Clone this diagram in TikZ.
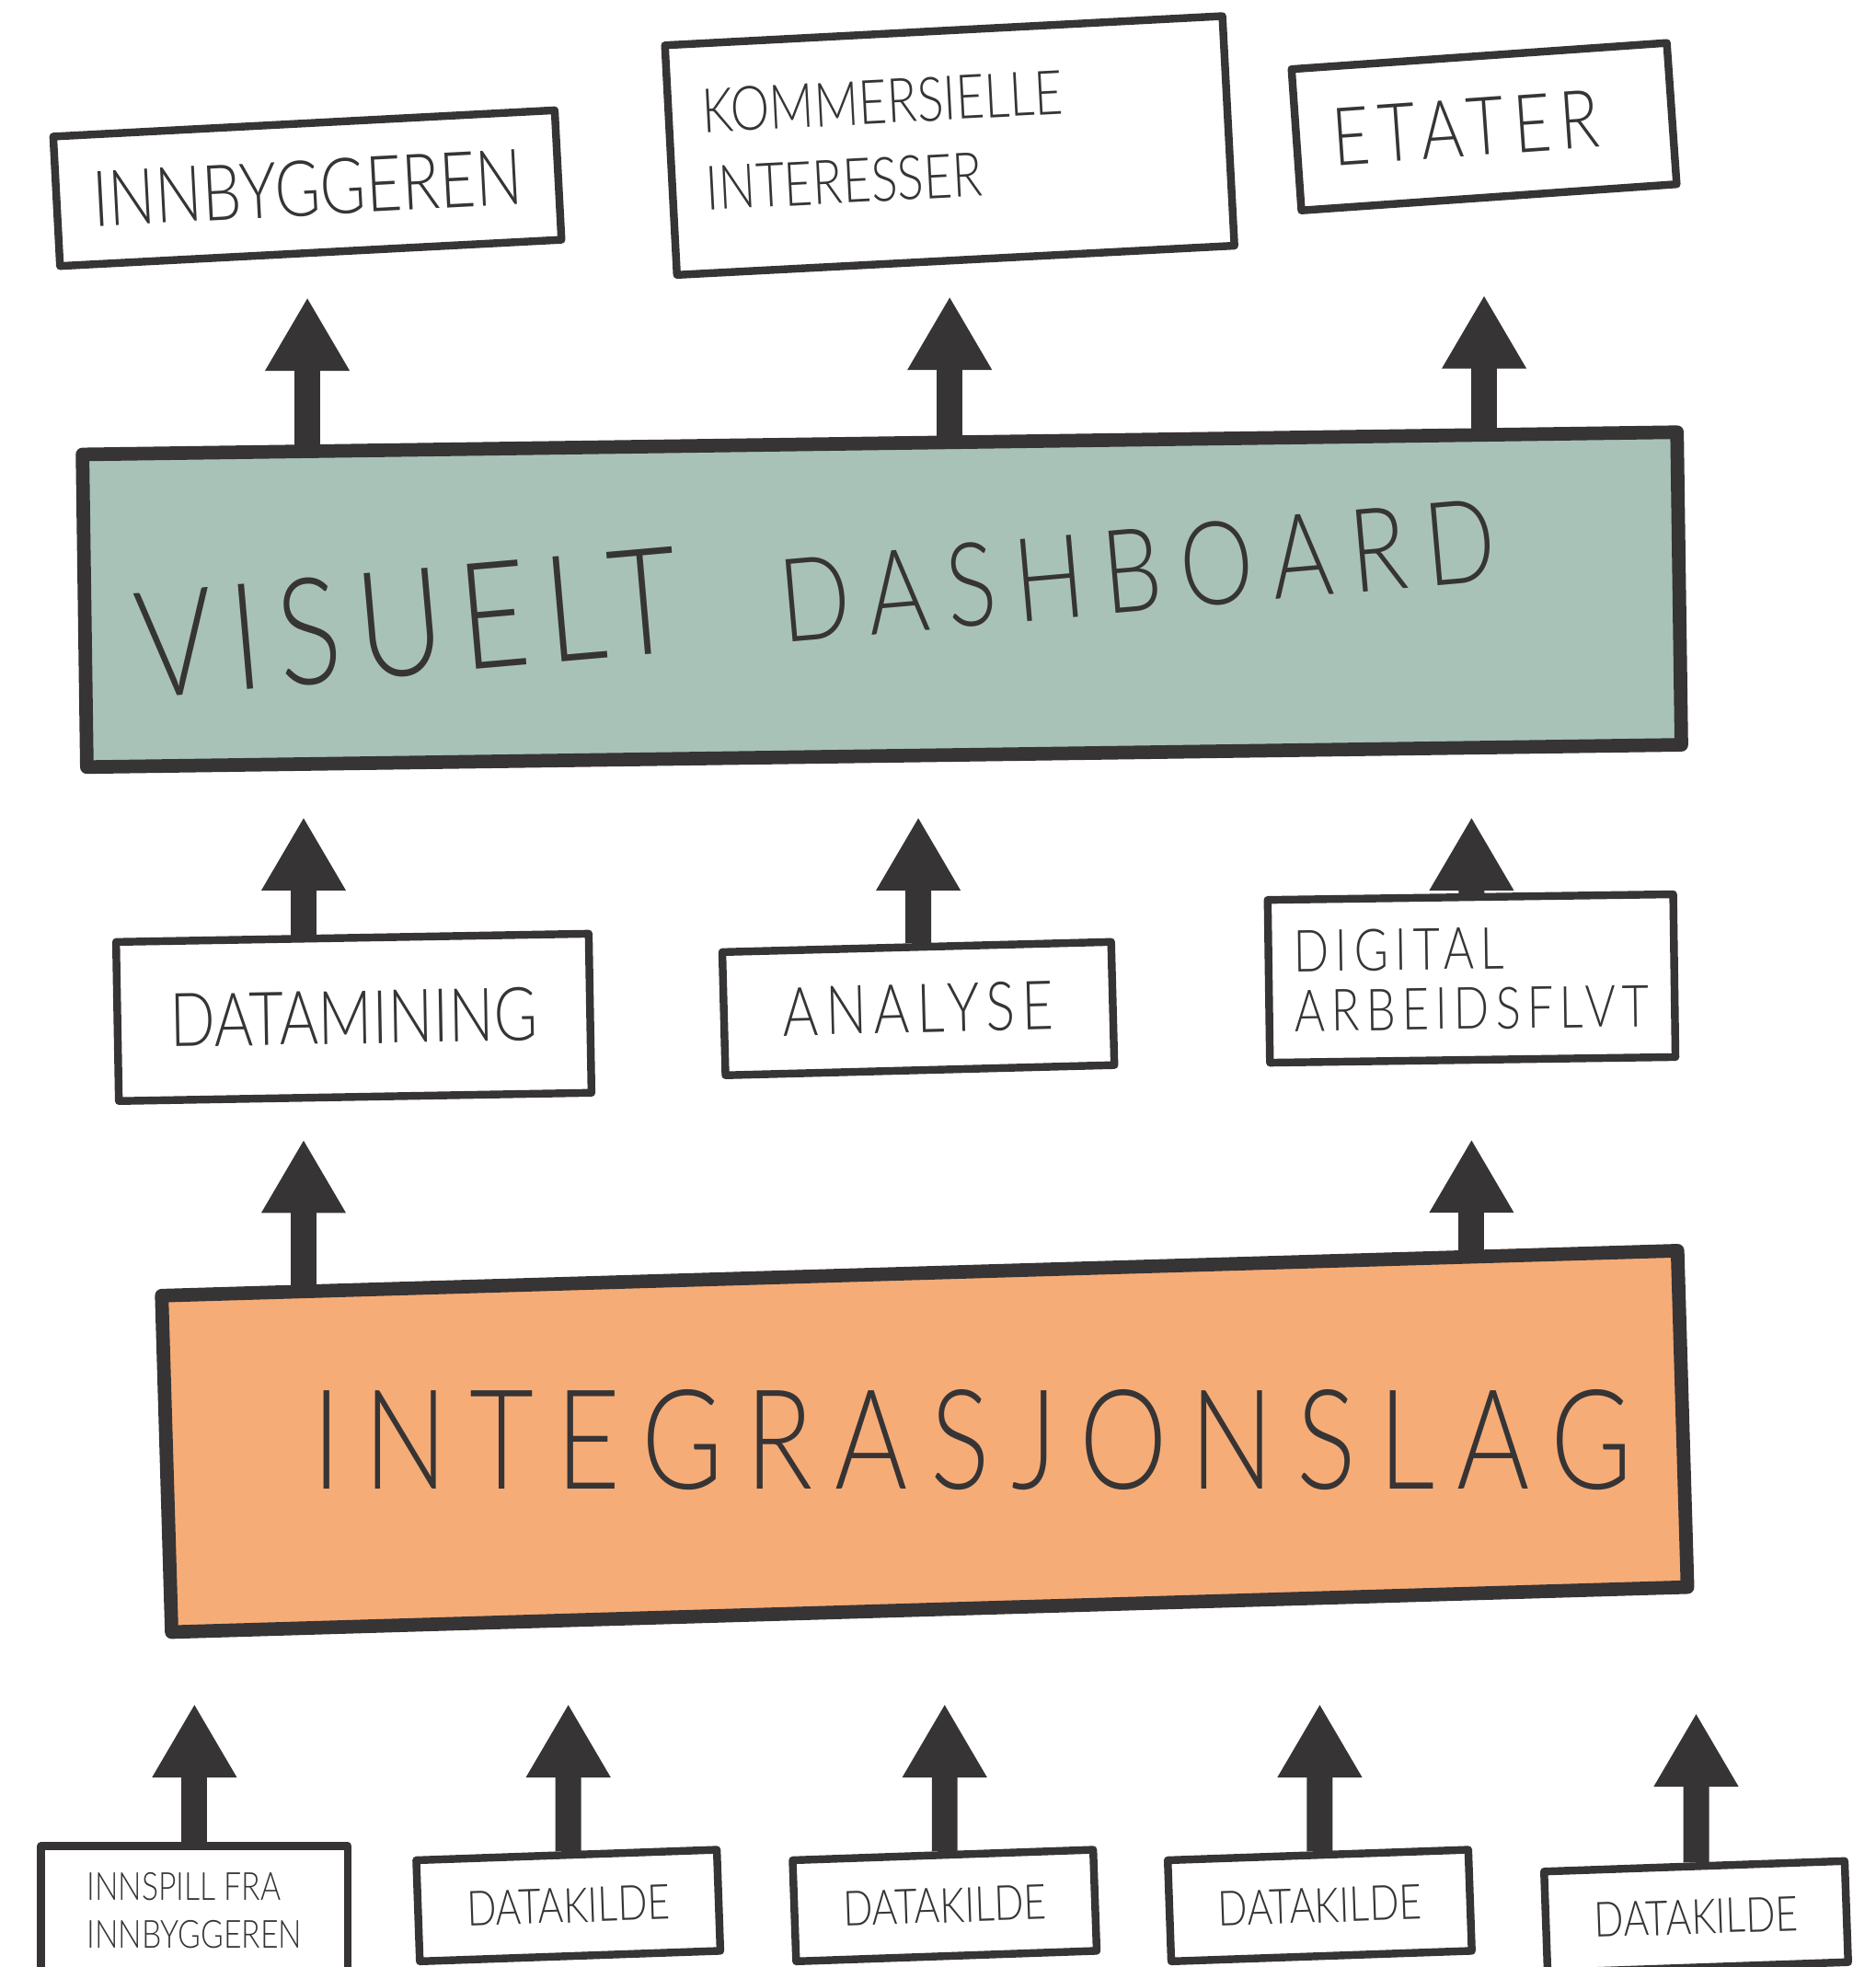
\documentclass[tikz,border=0pt]{standalone}
\usepackage{fontspec}
\usetikzlibrary{arrows.meta,backgrounds}
\newfontfamily\hand[FakeStretch=0.8]{Lato Light}
\newfontfamily\handwide[FakeStretch=0.8,LetterSpace=11]{Lato Light}
\newfontfamily\handwider[FakeStretch=0.8,LetterSpace=16]{Lato Light}
\definecolor{ink}{HTML}{363435}
\definecolor{sage}{HTML}{A9C2B7}
\definecolor{peach}{HTML}{F6AC77}
\begin{document}
\begin{tikzpicture}[x=0.01364cm,y=-0.01364cm]
  \tikzset{box/.style={draw=ink, line width=2.4pt, fill=white, line join=round, inner sep=0pt, text=ink, align=left},
    layer/.style={box, line width=4.2pt},
    hand/.style={text=ink, align=left, inner sep=0pt},
    up arrow/.style={draw=ink, line width=0.28cm, -{Triangle[width=0.86cm,length=0.8cm]}}}
  \useasboundingbox (0,0) rectangle (1495,1568);
  \coordinate (left) at (242,0);
  \node[box, minimum width=5.46cm, minimum height=1.41cm, rotate=3, font={\hand\fontsize{24}{26}\selectfont}] (innb) at (245,150) {INNBYGGEREN};
  \node[box, minimum width=6.07cm, minimum height=2.5cm, rotate=3] (komm) at (757,116) {};
  \node[hand, rotate=3, font={\hand\fontsize{19}{24}\selectfont}] (kommlbl) at (705,112) {KOMMERSIELLE\\INTERESSER};
  \node[box, minimum width=4.09cm, minimum height=1.54cm, rotate=4, font={\handwide\fontsize{25}{27}\selectfont}] (etat) at (1183,101) {\hspace{-0.4cm}ETATER};
  \node[layer, fill=sage, minimum width=17.34cm, minimum height=3.4cm, rotate=0.8] (dash) at (703,478) {};
  \node[hand, rotate=5] (dashlbl) at (650,468) {{\handwide\fontsize{46}{48}\selectfont VISUELT}\hspace{1.1cm}{\handwider\fontsize{36}{40}\selectfont DASHBOARD}};
  \node[box, minimum width=5.14cm, minimum height=1.73cm, rotate=1, font={\hand\fontsize{23}{25}\selectfont}] (datam) at (282,811) {DATAMINING};
  \node[box, minimum width=4.23cm, minimum height=1.34cm, rotate=1.5, font={\handwide\fontsize{21}{23}\selectfont}] (anal) at (732,804) {ANALYSE};
  \node[box, minimum width=4.41cm, minimum height=1.77cm, rotate=0.8, font={\handwide\fontsize{18}{18.5}\selectfont}] (digi) at (1173,780) {DIGITAL\\ARBEIDSFLVT};
  \node[layer, fill=peach, minimum width=16.49cm, minimum height=3.66cm, rotate=1.7] (integ) at (737,1149) {};
  \node[hand, font={\handwider\fontsize{43}{45}\selectfont}] (integlbl) at (775,1148) {INTEGRASJONSLAG};
  \node[box, minimum width=3.34cm, minimum height=1.4cm, font={\hand\fontsize{12}{14.7}\selectfont}] (innsp) at (155,1523) {INNSPILL FRA\\INNBYGGEREN};
  \node[box, minimum width=3.27cm, minimum height=1.1cm, rotate=2, font={\hand\fontsize{15}{17}\selectfont}] (dk1) at (453,1519) {DATAKILDE};
  \node[box, minimum width=3.27cm, minimum height=1.1cm, rotate=2, font={\hand\fontsize{15}{17}\selectfont}] (dk2) at (753,1519) {DATAKILDE};
  \node[box, minimum width=3.27cm, minimum height=1.1cm, rotate=2, font={\hand\fontsize{15}{17}\selectfont}] (dk3) at (1052,1519) {DATAKILDE};
  \node[box, minimum width=3.27cm, minimum height=1.1cm, rotate=2, font={\hand\fontsize{15}{17}\selectfont}] (dk4) at (1352,1528) {DATAKILDE};
  \begin{scope}[on background layer]
    \foreach \n/\g in {innb/0.44, komm/0.35, etat/1.02}
      \draw[up arrow, shorten >=\g cm] (\n |- dash) -- (\n |- \n.south);
    \draw[up arrow, shorten >=0.59cm] (left |- datam) -- (left |- dash.south);
    \draw[up arrow, shorten >=0.59cm] (anal) -- (anal |- dash.south);
    \draw[up arrow, shorten >=0.59cm] (digi) -- (digi |- dash.south);
    \draw[up arrow, shorten >=0.42cm] (left |- integ) -- (left |- datam.south);
    \draw[up arrow, shorten >=0.82cm] (digi |- integ) -- (digi |- digi.south);
    \foreach \n/\g in {innsp/0.95, dk1/0.95, dk2/0.95, dk3/0.95, dk4/1.05}
      \draw[up arrow, shorten >=\g cm] (\n) -- (\n |- integ.south);
  \end{scope}
\end{tikzpicture}
\end{document}
